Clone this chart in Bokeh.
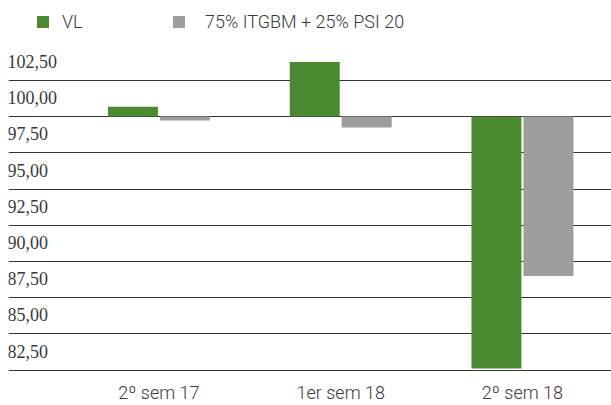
from bokeh.plotting import figure
from bokeh.models import (Range1d, FixedTicker, ColumnDataSource, LabelSet,
                          Legend, LegendItem)
from bokeh.transform import dodge
from bokeh.embed import file_html
from bokeh.resources import INLINE

categories = ["2º sem 17", "1er sem 18", "2º sem 18"]
series_names = ["VL", "75% ITGBM + 25% PSI 20"]
vl_values = [100.68, 103.77, 82.62]
bench_values = [99.73, 99.25, 88.99]
y_ticks = [82.5, 85.0, 87.5, 90.0, 92.5, 95.0, 97.5, 100.0, 102.5]
y_tick_labels = ["82,50", "85,00", "87,50", "90,00", "92,50", "95,00", "97,50", "100,00", "102,50"]
baseline = 100.0

GREEN = "#4b8a31"
GRAY = "#9d9d9b"
TEXT = "#3a3a3a"
FONT = "Roboto Light"

W, H = 611, 405
BT, BB, BL = 0, 30, 8
FRAME_H = H - BT - BB

src = ColumnDataSource(dict(x=list(range(len(categories))), vl=vl_values,
                            bench=bench_values, base=[baseline] * len(categories)))

p = figure(width=W, height=H, output_backend="svg", toolbar_location=None,
           x_range=Range1d(-0.828, 2.49), y_range=Range1d(82.27, 108.01),
           min_border_left=BL, min_border_right=0, min_border_top=BT, min_border_bottom=BB)
p.outline_line_color = None
p.background_fill_color = "white"
p.border_fill_color = "white"

r1 = p.vbar(x=dodge("x", -0.143, range=p.x_range), width=0.275, top="vl", bottom="base",
            source=src, fill_color=GREEN, line_color=None)
r2 = p.vbar(x=dodge("x", 0.143, range=p.x_range), width=0.275, top="bench", bottom="base",
            source=src, fill_color=GRAY, line_color=None)

# axes
p.yaxis.visible = False
p.ygrid.ticker = FixedTicker(ticks=y_ticks)
p.ygrid.grid_line_color = "#333333"
p.ygrid.grid_line_width = 1
p.xgrid.grid_line_color = None

xa = p.xaxis[0]
xa.ticker = FixedTicker(ticks=list(range(len(categories))))
xa.major_label_overrides = {i: c for i, c in enumerate(categories)}
xa.axis_line_color = None
xa.major_tick_line_color = None
xa.minor_tick_line_color = None
xa.major_tick_out = 0
xa.major_tick_in = 0
xa.major_label_standoff = 8
xa.major_label_text_font = FONT
xa.major_label_text_font_size = "18px"
xa.major_label_text_color = TEXT

# y tick labels above gridlines
lab_src = ColumnDataSource(dict(y=y_ticks, text=y_tick_labels, x=[-1] * len(y_ticks)))
labels = LabelSet(x="x", y="y", text="text", source=lab_src, x_units="screen",
                  y_offset=12.5, text_baseline="alphabetic", text_align="left",
                  text_font=FONT, text_font_size="18px", text_color=TEXT)
p.add_layout(labels)

# legends (inside the frame, at its top)
for name, rend, xloc, standoff in [(series_names[0], r1, 27, 12), (series_names[1], r2, 163, 19)]:
    lg = Legend(items=[LegendItem(label=name, renderers=[rend])],
                location=(xloc, FRAME_H - 13 - 21), orientation="horizontal",
                glyph_width=15, glyph_height=15, label_standoff=standoff,
                padding=0, margin=0, spacing=0, border_line_color=None,
                background_fill_alpha=0, label_text_font=FONT,
                label_text_font_size="18px", label_text_color=TEXT, label_height=15)
    p.add_layout(lg, "center")

open("out.html", "w").write(file_html(p, INLINE))
